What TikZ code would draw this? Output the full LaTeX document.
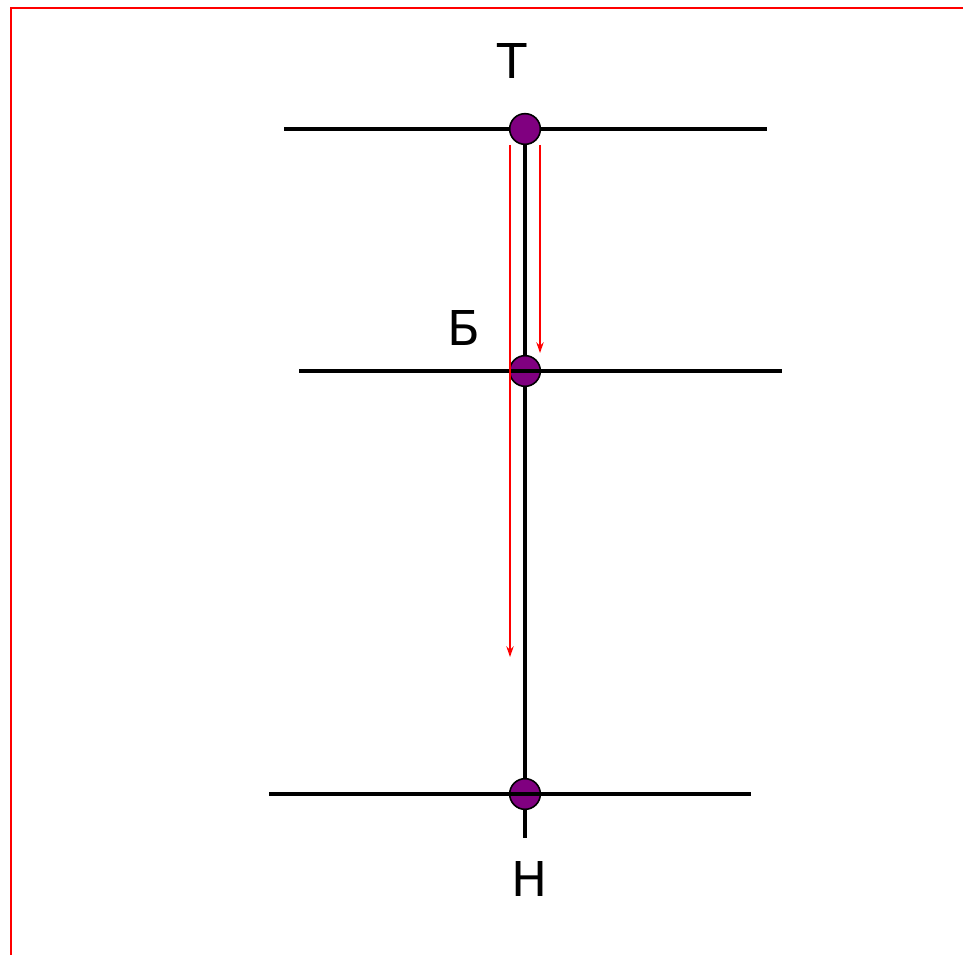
\documentclass[tikz,border=0pt]{standalone}
\usepackage{fontspec}
\setmainfont{DejaVu Sans}
\usetikzlibrary{arrows.meta}
\definecolor{dotpurple}{HTML}{800080}
\begin{document}
\begin{tikzpicture}[x=0.75pt,y=-0.75pt,
  level/.style={line width=2.7pt,black},
  stem/.style={line width=2.7pt,black},
  dot/.style={circle,draw=black,line width=1.2pt,fill=dotpurple,minimum size=23pt,inner sep=0pt},
  flow/.style={red,line width=1.3pt,-{Stealth[length=8pt,width=5.5pt]}},
  lbl/.style={font=\fontsize{36}{40}\selectfont,inner sep=0pt}]
\useasboundingbox (0,0) rectangle (963,955);
\draw[red,line width=1.6pt] (11,955) -- (11,8) -- (963,8);
% levels
\coordinate (t1) at (284,129); \coordinate (t2) at (767,129);
\coordinate (b1) at (299,371); \coordinate (b2) at (782,371);
\coordinate (n1) at (269,794); \coordinate (n2) at (751,794);
\coordinate (top) at (525,129); \coordinate (bot) at (525,838);
\draw[stem] (top) -- (bot);
\draw[level] (t1) -- (t2);
\node[dot] (T) at (525,129) {};
\node[dot] (B) at (525,371) {};
\node[dot] (N) at (525,794) {};
\draw[level] (b1) -- (b2);
\draw[level] (n1) -- (n2);
% arrows
\coordinate (a1s) at (510,145); \coordinate (a1e) at (510,657);
\coordinate (a2s) at (540,145); \coordinate (a2e) at (540,353);
\draw[flow] (a1s) -- (a1e);
\draw[flow] (a2s) -- (a2e);
% labels
\node[lbl] (LT) at (512,61) {Т};
\node[lbl] (LB) at (464,328) {Б};
\node[lbl] (LN) at (530,879) {Н};
\end{tikzpicture}
\end{document}
